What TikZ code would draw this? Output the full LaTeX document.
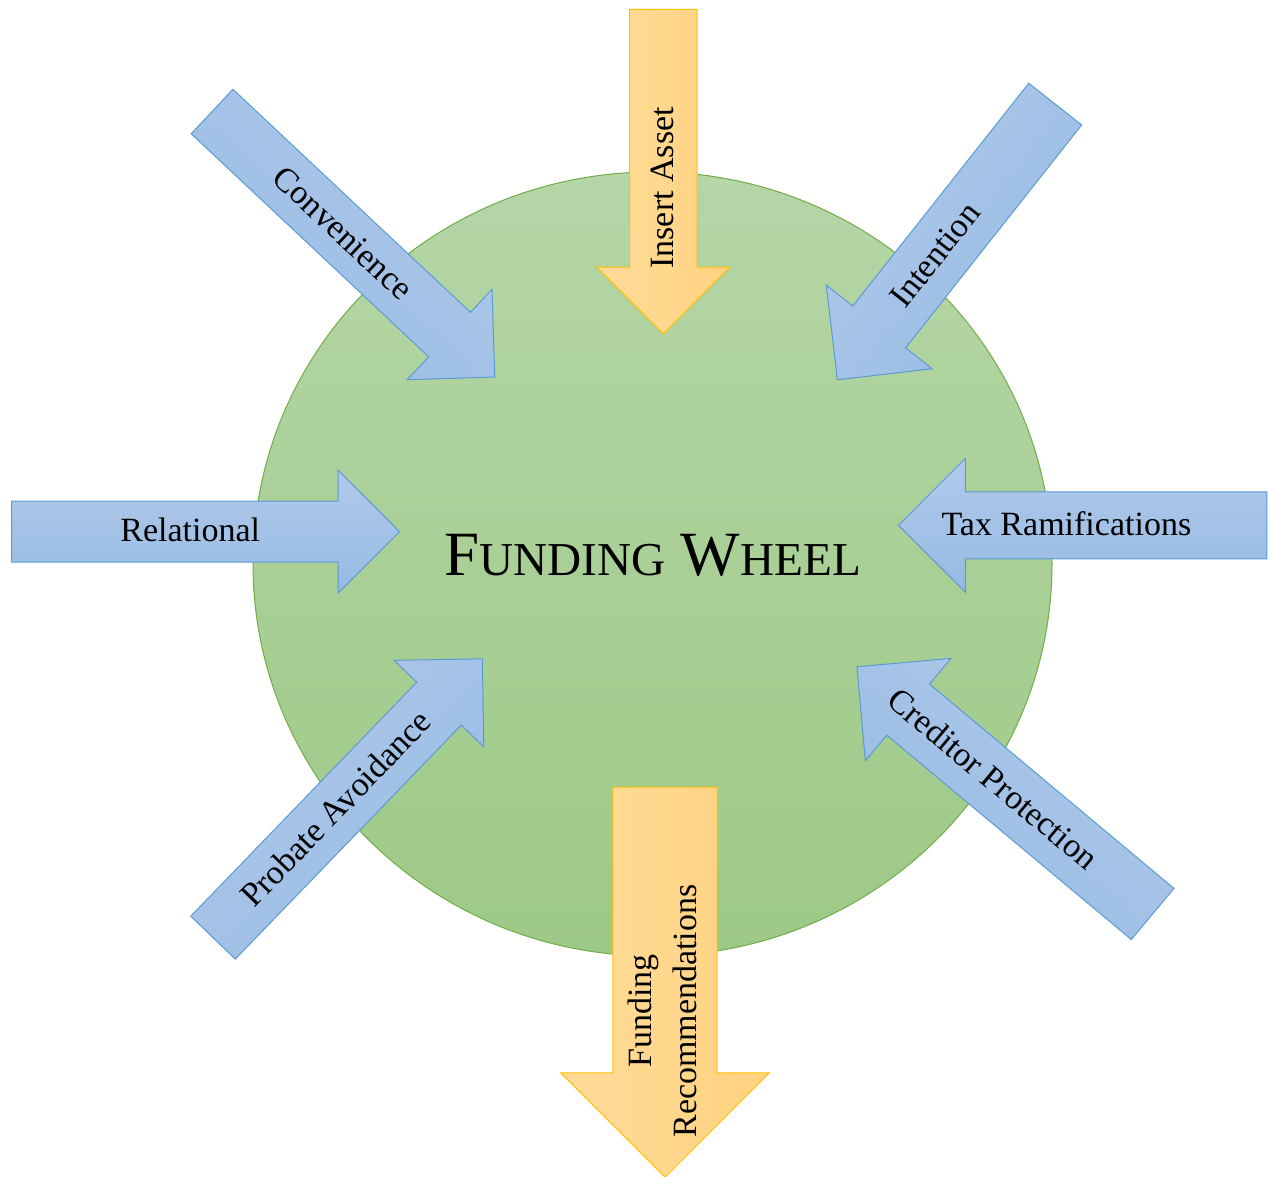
\documentclass[tikz,border=0pt]{standalone}
\usepackage{fontspec}
\setmainfont{Liberation Serif}
\usetikzlibrary{shapes.arrows,shapes.geometric}

\definecolor{wheeltop}{RGB}{181,214,167}
\definecolor{wheelbottom}{RGB}{157,201,134}
\definecolor{wheeledge}{RGB}{112,173,71}
\definecolor{bluelight}{RGB}{177,202,234}
\definecolor{bluedark}{RGB}{150,186,227}
\definecolor{blueedge}{RGB}{91,155,213}
\definecolor{goldlight}{RGB}{255,219,154}
\definecolor{golddark}{RGB}{255,210,127}
\definecolor{goldedge}{RGB}{255,192,0}

% small caps by hand, the font has none
\newcommand{\smallcap}[1]{{\fontsize{23.6}{28}\selectfont #1}}
% move a label towards the arrow head without changing its box
\newcommand{\towardhead}[2]{\kern-#1\relax#2\kern#1\relax}

\tikzset{
  inarrow/.style={single arrow, anchor=tail, inner xsep=2pt, line width=0.5pt,
    font=\fontsize{17}{22.5}\selectfont},
  oneline/.style={text height=12pt, text depth=2pt},
  bluearrow/.style={inarrow, oneline, draw=blueedge, top color=bluelight, bottom color=bluedark},
  goldarrow/.style={inarrow, draw=goldedge, top color=goldlight, bottom color=golddark},
  angled/.style={rotate=#1, shading angle=#1},
}

\begin{document}
\begin{tikzpicture}[x=0.5pt,y=-0.5pt]
  \useasboundingbox (0,0) rectangle (1269,1177);

  % the wheel
  \node[ellipse, draw=wheeledge, line width=0.5pt, top color=wheeltop, bottom color=wheelbottom,
        minimum width=399.5pt, minimum height=392pt, inner sep=0pt, text depth=9pt,
        font=\fontsize{31.5}{36}\selectfont] (wheel) at (652.5,564)
        {F\smallcap{UNDING} W\smallcap{HEEL}};

  % arrows into the wheel
  \node[bluearrow, angled=-43.2, minimum height=193.9pt, inner ysep=8pt,
        single arrow head extend=15.75pt] (conv) at (211.7,111.2) {Convenience};
  \node[goldarrow, oneline, angled=90, shape border rotate=180, minimum height=162.2pt,
        inner ysep=9.6pt, single arrow head extend=16.5pt] (asset) at (663.3,9)
        {\towardhead{16.5pt}{Insert Asset}};
  \node[bluearrow, angled=51.7, shape border rotate=180, minimum height=175.7pt,
        inner ysep=9.6pt, single arrow head extend=16.85pt] (intent) at (1055.5,103.7)
        {\towardhead{17pt}{Intention}};
  \node[bluearrow, minimum height=194pt, inner ysep=8pt,
        single arrow head extend=15.4pt] (rel) at (11,531.7) {Relational};
  \node[bluearrow, shape border rotate=180, minimum height=184.2pt, inner ysep=9.5pt,
        single arrow head extend=16.7pt] (tax) at (1267.3,525.3)
        {\towardhead{16.5pt}{Tax Ramifications}};
  \node[bluearrow, angled=46, minimum height=193.8pt, inner ysep=8.2pt,
        single arrow head extend=15.7pt] (probate) at (212.7,938) {Probate Avoidance};
  \node[bluearrow, angled=-39.9, shape border rotate=180, minimum height=192.7pt,
        inner ysep=9.4pt, single arrow head extend=16.75pt] (cred) at (1153,914.3)
        {\towardhead{16.5pt}{Creditor Protection}};

  % arrow out of the wheel
  \node[goldarrow, angled=90, shape border rotate=180, minimum height=195pt,
        inner ysep=3.35pt, single arrow head extend=26.1pt] (advice) at (665,786.7)
        {\towardhead{27.5pt}{\begin{tabular}{@{}c@{}}Funding\\Recommendations\end{tabular}}};
\end{tikzpicture}
\end{document}
